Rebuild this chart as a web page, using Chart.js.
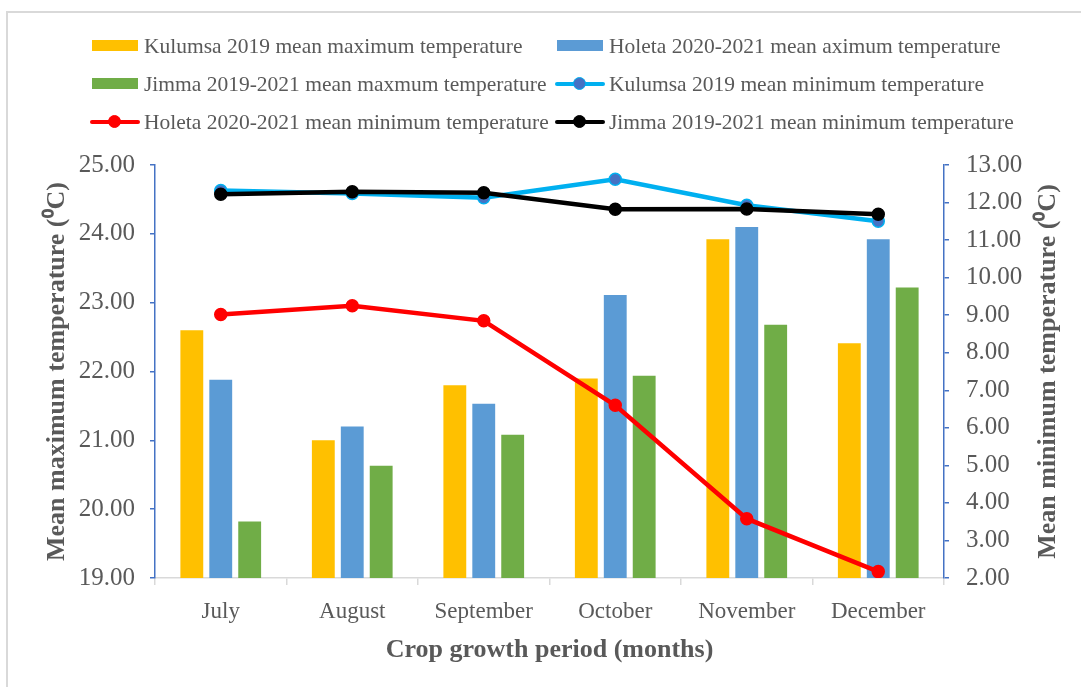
<!DOCTYPE html>
<html>
<head>
<meta charset="utf-8">
<script src="https://cdn.jsdelivr.net/npm/chart.js@4/dist/chart.umd.min.js"></script>
<style>
  html, body { margin: 0; padding: 0; background: #fff; }
  #wrap { position: relative; width: 1081px; height: 687px; overflow: hidden; }
  #frame { position: absolute; left: 6px; top: 11px; right: -4px; bottom: -4px;
           border-left: 2px solid #d9d9d9; border-top: 2px solid #d9d9d9; }
  #chartBox { position: absolute; left: 0; top: 0; width: 1081px; height: 687px; }
  #legend { position: absolute; left: 0; top: 0; font-family: "Liberation Serif", serif;
            font-size: 21.5px; color: #595959; }
  .lg-item { position: absolute; white-space: nowrap; height: 24px; line-height: 24px; }
  .lg-sw { position: absolute; left: 0; top: 6px; width: 46px; height: 11px; }
  .lg-line { position: absolute; left: -2px; top: 10px; width: 50px; height: 4px; border-radius: 2px; }
  .lg-dot { position: absolute; left: 16px; top: 5px; width: 11px; height: 11px; border-radius: 50%;
            border: 1.5px solid; }
  .lg-txt { position: absolute; left: 52px; top: 0; }
</style>
</head>
<body>
<div id="wrap">
  <div id="frame"></div>
  <div id="chartBox"><canvas id="chart" width="1081" height="687"></canvas></div>
  <div id="legend"></div>
</div>
<script>
// ---------- datos ----------
const meses = ['July', 'August', 'September', 'October', 'November', 'December'];

// temperaturas máximas (eje izquierdo, barras)
const kulumsaMax = [22.60, 21.00, 21.80, 21.90, 23.92, 22.41];
const holetaMax  = [21.88, 21.20, 21.53, 23.11, 24.10, 23.92];
const jimmaMax   = [19.82, 20.63, 21.08, 21.94, 22.68, 23.22];

// temperaturas mínimas (eje derecho, líneas)
const kulumsaMin = [12.32, 12.24, 12.13, 12.62, 11.93, 11.50];
const holetaMin  = [9.02, 9.25, 8.85, 6.60, 3.58, 2.17];
const jimmaMin   = [12.22, 12.29, 12.26, 11.82, 11.83, 11.69];

const labelsSerie = [
  'Kulumsa 2019 mean maximum temperature',
  'Holeta 2020-2021 mean aximum temperature',
  'Jimma 2019-2021 mean maxmum temperature',
  'Kulumsa 2019 mean minimum temperature',
  'Holeta 2020-2021 mean minimum temperature',
  'Jimma 2019-2021 mean minimum temperature'
];

const FONT = '"Liberation Serif", "Times New Roman", serif';
const GRIS = '#595959';
const AZUL_EJE = '#4472C4';
const TITULO_DER = 'Mean minimum temperature (\u2070C)';

(() => {
  const barra = (label, data, color) => ({
    type: 'bar', label, data, backgroundColor: color, yAxisID: 'y', order: 10,
    barPercentage: 0.79, categoryPercentage: 0.66
  });
  const linea = (label, data, color, fill, order) => ({
    type: 'line', label, data, yAxisID: 'y1', order,
    borderColor: color, backgroundColor: fill, pointBackgroundColor: fill,
    pointBorderColor: color, borderWidth: 4.5, pointRadius: 6, pointBorderWidth: 1.5,
    tension: 0
  });

  const datasets = [
    barra(labelsSerie[0], kulumsaMax, '#FFC000'),
    barra(labelsSerie[1], holetaMax, '#5B9BD5'),
    barra(labelsSerie[2], jimmaMax, '#70AD47'),
    linea(labelsSerie[3], kulumsaMin, '#00B0F0', '#4472C4', 3),
    linea(labelsSerie[4], holetaMin, '#FF0000', '#FF0000', 2),
    linea(labelsSerie[5], jimmaMin, '#000000', '#000000', 1)
  ];

  // título del eje derecho, leído de abajo hacia arriba como el izquierdo
  const tituloDerecho = {
    id: 'tituloDerecho',
    afterDraw(chart) {
      const { ctx, chartArea } = chart;
      ctx.save();
      ctx.translate(1048, (chartArea.top + chartArea.bottom) / 2);
      ctx.rotate(-Math.PI / 2);
      ctx.font = `bold 26px ${FONT}`;
      ctx.fillStyle = GRIS;
      ctx.textAlign = 'center';
      ctx.textBaseline = 'middle';
      ctx.fillText(TITULO_DER, 0, 0);
      ctx.restore();
    }
  };

  const chart = new Chart(document.getElementById('chart'), {
    type: 'bar',
    data: { labels: meses, datasets },
    plugins: [tituloDerecho],
    options: {
      responsive: false,
      animation: false,
      layout: { padding: { left: 38, right: 0, top: 165, bottom: 18 } },
      plugins: { legend: { display: false }, tooltip: { enabled: false } },
      scales: {
        x: {
          offset: true,
          afterFit: s => { s.height = 687 - 578 - 18; },
          grid: { offset: true, drawOnChartArea: false, drawTicks: true, tickLength: 7, color: '#d9d9d9', lineWidth: 1.5 },
          border: { color: '#d9d9d9', width: 1.5 },
          ticks: { color: GRIS, font: { family: FONT, size: 23 }, padding: 13 },
          title: { display: true, text: 'Crop growth period (months)', color: GRIS,
                   font: { family: FONT, size: 26, weight: 'bold' }, padding: { top: 4, bottom: 3 } }
        },
        y: {
          position: 'left', min: 19, max: 25,
          afterFit: s => { s.width = 155 - 38; },
          grid: { drawOnChartArea: false, tickLength: 5, color: AZUL_EJE, lineWidth: 1.5 },
          border: { color: AZUL_EJE, width: 1.5 },
          ticks: { stepSize: 1, color: GRIS, font: { family: FONT, size: 25 }, padding: 15,
                   callback: v => Number(v).toFixed(2) },
          title: { display: true, text: 'Mean maximum temperature (\u2070C)', color: GRIS,
                   font: { family: FONT, size: 26, weight: 'bold' }, padding: { top: 4, bottom: 4 } }
        },
        y1: {
          position: 'right', min: 2, max: 13,
          afterFit: s => { s.width = 1081 - 944; },
          grid: { drawOnChartArea: false, tickLength: 5, color: AZUL_EJE, lineWidth: 1.5 },
          border: { color: AZUL_EJE, width: 1.5 },
          ticks: { stepSize: 1, color: GRIS, font: { family: FONT, size: 25 }, padding: 17,
                   callback: v => Number(v).toFixed(2) },
          title: { display: false }
        }
      }
    }
  });

  // ---------- leyenda HTML (2 columnas, 3 filas) ----------
  const cols = [92, 557];
  const rows = [34, 72, 110];
  const legend = document.getElementById('legend');
  chart.data.datasets.forEach((ds, i) => {
    const item = document.createElement('div');
    item.className = 'lg-item';
    item.style.left = cols[i % 2] + 'px';
    item.style.top = rows[Math.floor(i / 2)] + 'px';
    if (ds.type === 'bar') {
      item.innerHTML = `<div class="lg-sw" style="background:${ds.backgroundColor}"></div>`;
    } else {
      item.innerHTML = `<div class="lg-line" style="background:${ds.borderColor}"></div>` +
        `<div class="lg-dot" style="background:${ds.pointBackgroundColor};border-color:${ds.borderColor}"></div>`;
    }
    item.innerHTML += `<span class="lg-txt">${ds.label}</span>`;
    legend.appendChild(item);
  });
})();
</script>
</body>
</html>
